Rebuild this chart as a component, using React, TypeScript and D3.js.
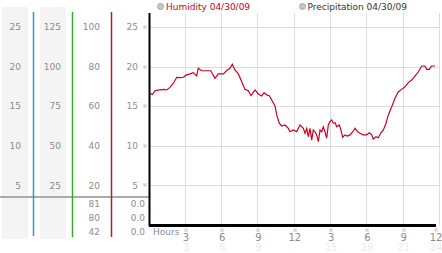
import React from "react";
import * as d3 from "d3";

// ---- data ----
const hours = [0, 0.26, 0.45, 0.87, 1.2, 1.42, 1.69, 1.97, 2.25, 2.52, 2.79, 3.07, 3.35, 3.62, 3.9, 4.03, 4.31, 4.73, 5.06, 5.41, 5.68, 6.1, 6.43, 6.65, 6.84, 7.06, 7.34, 7.62, 7.89, 8.16, 8.39, 8.72, 8.99, 9.27, 9.46, 9.68, 9.9, 10.1, 10.37, 10.51, 10.72, 10.92, 11.19, 11.47, 11.61, 11.88, 12.16, 12.43, 12.71, 12.85, 12.99, 13.12, 13.26, 13.4, 13.53, 13.67, 13.81, 13.95, 14.09, 14.23, 14.36, 14.5, 14.64, 14.77, 14.91, 15.05, 15.19, 15.33, 15.47, 15.68, 15.8, 15.96, 16.15, 16.34, 16.57, 16.79, 16.98, 17.2, 17.39, 17.66, 17.94, 18.16, 18.36, 18.49, 18.71, 18.9, 19.1, 19.32, 19.54, 19.73, 20.01, 20.28, 20.56, 20.84, 21.11, 21.38, 21.66, 21.94, 22.21, 22.49, 22.76, 22.9, 23.12, 23.31, 23.59];
const humidity = [66.5, 66.0, 67.8, 68.2, 68.5, 68.2, 69.5, 71.6, 74.6, 74.4, 74.6, 75.8, 76.3, 76.9, 75.3, 79.1, 77.9, 77.9, 77.9, 74.1, 76.3, 76.3, 78.3, 79.1, 81.2, 78.3, 76.3, 72.4, 68.5, 67.8, 65.3, 68.2, 66.2, 65.2, 66.8, 65.7, 65.3, 63.1, 60.1, 55.6, 51.4, 50.0, 50.5, 48.8, 47.1, 48.0, 47.1, 50.5, 48.8, 46.3, 48.8, 44.6, 48.8, 42.9, 48.0, 47.1, 45.5, 42.1, 48.0, 47.1, 49.6, 47.1, 43.8, 50.5, 52.2, 53.0, 51.4, 51.7, 49.6, 50.5, 48.3, 44.3, 45.5, 44.9, 45.5, 47.1, 48.8, 47.1, 46.3, 45.5, 45.5, 46.6, 45.5, 43.3, 44.6, 44.1, 46.3, 48.0, 51.4, 55.6, 59.7, 64.0, 67.3, 68.5, 69.8, 71.9, 73.2, 75.3, 77.4, 80.3, 80.3, 78.6, 78.6, 80.3, 80.3];

const gridPct = [100, 80, 60, 40, 20];
const col1Labels = ["25", "20", "15", "10", "5"];
const col2Labels = ["125", "100", "75", "50", "25"];
const col3Labels = ["100", "80", "60", "40", "20"];
const col4Labels = ["25", "20", "15", "10", "5"];
const humidityStats = ["81", "80", "42"];
const precipStats = ["0.0", "0.0", "0.0"];
const hourTicks = [3, 6, 9, 12, 15, 18, 21, 24];
const hourLabels = ["3", "6", "9", "12", "3", "6", "9", "12"];
const hourLabels24 = ["3", "6", "9", "12", "15", "18", "21", "24"];
const legendItems = ["Humidity 04/30/09", "Precipitation 04/30/09"];

const FONT = "'DejaVu Sans', Verdana, sans-serif";
const LINE = "#cc0022";
const LABEL = "#8c8c8c";

// tiny dotted tick glyph (5 dots in a 3x3 cell)
const dots: [number, number][] = [[-1.5, -1.5], [0.5, -1.5], [-0.5, -0.5], [-1.5, 0.5], [0.5, 0.5]];

export default function App() {
  const x = d3.scaleLinear().domain([0, 24]).range([149.5, 440]);
  const y = d3.scaleLinear().domain([0, 100]).range([225, 27]);
  const line = d3
    .line<number>()
    .x((_, i) => x(hours[i]))
    .y((d) => y(d))
    .curve(d3.curveLinear);

  const statsY = [204, 218, 232];
  const tick = (cx: number, cy: number, key: string) => (
    <g key={key} transform={`translate(${Math.round(cx)},${Math.round(cy)})`} fill="#9a9a9a">
      {dots.map((d, j) => (
        <rect key={j} x={d[0]} y={d[1]} width={1} height={1} />
      ))}
    </g>
  );
  const lx = (h: number) => (h === 24 ? x(h) - 4 : x(h));

  return (
    <svg width={442} height={253} style={{ position: "absolute", left: 0, top: 0 }}>
      <rect width={442} height={253} fill="#fff" />
      {/* left panel backgrounds */}
      <rect x={2} y={7} width={26} height={232} fill="#f4f4f4" />
      <rect x={40} y={7} width={26} height={232} fill="#f4f4f4" />

      {/* gridlines */}
      {gridPct.map((p) => (
        <line key={"gh" + p} x1={150} x2={440} y1={Math.round(y(p)) + 0.5} y2={Math.round(y(p)) + 0.5} stroke="#dcdcdc" />
      ))}
      {hourTicks.map((h) => (
        <line key={"gv" + h} x1={Math.round(x(h)) - 0.5} x2={Math.round(x(h)) - 0.5} y1={13} y2={225} stroke="#dcdcdc" />
      ))}

      {/* axis columns */}
      {gridPct.map((p, i) => (
        <g key={"lab" + p} fontFamily={FONT} fontSize={9} fill={LABEL} textAnchor="end">
          <text x={21} y={y(p)} dy="0.35em">{col1Labels[i]}</text>
          <text x={61} y={y(p)} dy="0.35em">{col2Labels[i]}</text>
          <text x={100} y={y(p)} dy="0.35em">{col3Labels[i]}</text>
          <text x={138} y={y(p)} dy="0.35em">{col4Labels[i]}</text>
        </g>
      ))}
      {gridPct.map((p) => tick(145, y(p), "yt" + p))}

      <line x1={0} x2={150} y1={197} y2={197} stroke="#aaa" strokeWidth={2} />

      <line x1={33.5} x2={33.5} y1={12} y2={236} stroke="#3399cc" strokeWidth={1.5} />
      <line x1={72.5} x2={72.5} y1={12} y2={237} stroke="#33aa33" strokeWidth={1.5} />
      <line x1={111.5} x2={111.5} y1={12} y2={237} stroke="#b02020" strokeWidth={1.5} />

      {statsY.map((sy, i) => (
        <g key={"st" + i} fontFamily={FONT} fontSize={9} fill={LABEL} textAnchor="end">
          <text x={100} y={sy} dy="0.35em">{humidityStats[i]}</text>
          <text x={145} y={sy} dy="0.35em">{precipStats[i]}</text>
        </g>
      ))}

      {/* data line */}
      <path d={line(humidity) || ""} fill="none" stroke={LINE} strokeWidth={1.2} />

      {/* axes */}
      <line x1={149.5} x2={149.5} y1={13} y2={226} stroke="#000" strokeWidth={2} />
      <line x1={149} x2={436} y1={225.5} y2={225.5} stroke="#000" strokeWidth={3} />

      {/* x labels */}
      <text x={153} y={235} fontFamily={FONT} fontSize={9} fill={LABEL}>Hours</text>
      {hourTicks.map((h, i) => (
        <g key={"xl" + h}>
          {tick(lx(h), 230, "xt" + h)}
          <text x={lx(h)} y={241} fontFamily={FONT} fontSize={10} fill={LABEL} textAnchor="middle">
            {hourLabels[i]}
          </text>
          {i !== 3 ? (
            <text x={lx(h)} y={251} fontFamily={FONT} fontSize={10} fill="#ececec" textAnchor="middle">
              {hourLabels24[i]}
            </text>
          ) : null}
        </g>
      ))}

      {/* legend */}
      <g fontFamily={FONT} fontSize={9}>
        <circle cx={160.5} cy={6.5} r={3} fill="#c8c8c8" stroke="#999" strokeWidth={0.8} />
        <text x={166} y={10} fill={LINE}>{legendItems[0]}</text>
        <circle cx={302.5} cy={6.5} r={3} fill="#c8c8c8" stroke="#999" strokeWidth={0.8} />
        <text x={307.5} y={10} fill="#333">{legendItems[1]}</text>
      </g>
    </svg>
  );
}
